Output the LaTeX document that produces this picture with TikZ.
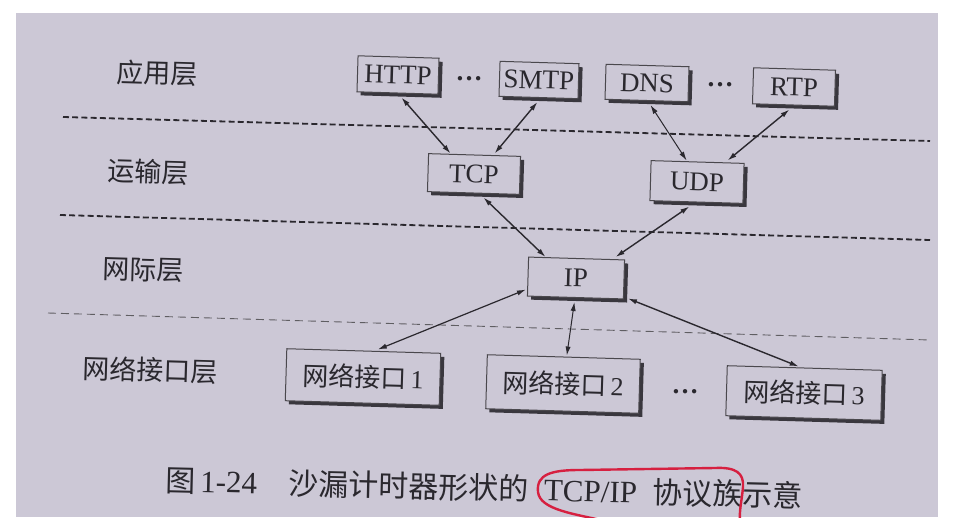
\documentclass[tikz,border=0pt]{standalone}
\usepackage{fontspec}
\setmainfont{Liberation Serif}
\newfontfamily\cjk{Noto Sans CJK SC}
\usetikzlibrary{shadows,arrows.meta,calc}
\definecolor{paper}{RGB}{204,200,214}
\definecolor{ink}{RGB}{42,40,46}
\definecolor{pen}{RGB}{214,32,64}
\begin{document}
\begin{tikzpicture}[x=0.5pt,y=-0.5pt,
  box/.style={draw=ink!85, line width=0.5pt, fill=paper, rotate=-1.7, inner sep=0pt,
    text=ink, font=\fontsize{13.5}{16}\selectfont,
    drop shadow={shadow xshift=1.8pt, shadow yshift=-1.8pt, fill=ink, opacity=0.9}},
  netbox/.style={box, font=\fontsize{13}{15}\selectfont},
  lab/.style={text=ink, font=\cjk\fontsize{13.5}{16}\selectfont, rotate=-1.7, inner sep=0pt},
  dots/.style={text=ink, font=\bfseries\fontsize{13.5}{16}\selectfont, inner sep=0pt},
  dl/.style={ink, line width=0.9pt, dash pattern=on 3pt off 1.6pt},
  dlthin/.style={ink!75, line width=0.45pt, dash pattern=on 4pt off 2.5pt},
  biarr/.style={{Latex[length=4.5pt,width=2.6pt]}-{Latex[length=4.5pt,width=2.6pt]}, ink, line width=0.7pt},
  captext/.style={text=ink, font=\fontsize{15.5}{18}\selectfont, rotate=-1.4, inner sep=0pt}]
\useasboundingbox (0,0) rectangle (954,530);
\fill[white] (0,0) rectangle (954,530);
\fill[paper] (16,13) rectangle (938,517);

% dashed layer separators
\coordinate (a1) at (63,117);  \coordinate (a2) at (930,141);
\coordinate (b1) at (60,215);  \coordinate (b2) at (930,240);
\coordinate (c1) at (48,313);  \coordinate (c2) at (930,340);
\draw[dl] (a1) -- (a2);
\draw[dl] (b1) -- (b2);
\draw[dlthin] (c1) -- (c2);

% layer labels
\node[lab] (lapp)   at (157,73)  {应用层};
\node[lab] (ltrans) at (148,172) {运输层};
\node[lab] (lnet)   at (143,270) {网际层};
\node[lab] (llink)  at (150,370) {网络接口层};

% boxes
\node[box, minimum width=40.5pt, minimum height=18pt]   (http) at (398,75)  {HTTP};
\node[dots] (d1) at (469,79) {…};
\node[box, minimum width=39.5pt, minimum height=17.5pt] (smtp) at (539,80)  {SMTP};
\node[box, minimum width=41.5pt, minimum height=17.5pt] (dns)  at (647,83)  {DNS};
\node[dots] (d2) at (720,85) {…};
\node[box, minimum width=41pt, minimum height=18pt]     (rtp)  at (794,87)  {RTP};
\node[box, minimum width=46pt, minimum height=19pt]     (tcp)  at (474,174) {TCP};
\node[box, minimum width=46.5pt, minimum height=20pt]   (udp)  at (697,182) {UDP};
\node[box, minimum width=48pt, minimum height=19.5pt]   (ip)   at (576,278) {IP};
\node[netbox, minimum width=77pt, minimum height=26pt]   (n1) at (363,377) {{\cjk 网络接口}\,1};
\node[netbox, minimum width=76.5pt, minimum height=27pt] (n2) at (563,384) {{\cjk 网络接口}\,2};
\node[dots] (d3) at (685,392) {…};
\node[netbox, minimum width=77.5pt, minimum height=25pt] (n3) at (804,393) {{\cjk 网络接口}\,3};

% connectors
\draw[biarr] ($(http.south)+(4,4)$) -- ($(tcp.north)+(-24,-1)$);
\draw[biarr] ($(smtp.south)+(-1,4)$) -- ($(tcp.north)+(20,-1)$);
\draw[biarr, line width=0.5pt] ($(dns.south)+(4,4)$) -- ($(udp.north)+(-11,-1)$);
\draw[biarr] ($(rtp.south)+(-4,4)$) -- ($(udp.north)+(30,-1)$);
\draw[biarr] ($(tcp.south)+(10,4)$) -- ($(ip.north)+(-31,-1)$);
\draw[biarr] ($(udp.south)+(-7,4)$) -- ($(ip.north)+(39,-1)$);
\draw[biarr, line width=0.6pt] ($(ip.south west)+(-1,-7)$) -- ($(n1.north)+(14,-1)$);
\draw[biarr, line width=0.5pt] ($(ip.south)+(-1,4)$) -- ($(n2.north)+(3,-1)$);
\draw[biarr] ($(ip.south east)+(4,-1)$) -- ($(n3.north)+(-6,-1)$);

% caption
\node[captext, anchor=west] (caption) at (165,480)
  {{\cjk\fontsize{15}{18}\selectfont 图}\hspace{2.5pt}1-24\hspace{16pt}{\cjk\fontsize{15}{18}\selectfont 沙漏计时器形状的}\hspace{7.5pt}TCP/IP\hspace{8pt}{\cjk\fontsize{15}{18}\selectfont 协议族示意}};

% red pen annotation
\begin{scope}
\clip (16,13) rectangle (938,517);
\draw[pen, line width=1.2pt, line cap=round]
  (610,522) .. controls (575,514) and (540,510) .. (538,492)
  .. controls (536,474) and (552,470) .. (580,470)
  -- (715,468) .. controls (736,467) and (744,473) .. (743,487)
  .. controls (742,500) and (739,510) .. (740,522);
\end{scope}
\end{tikzpicture}
\end{document}
